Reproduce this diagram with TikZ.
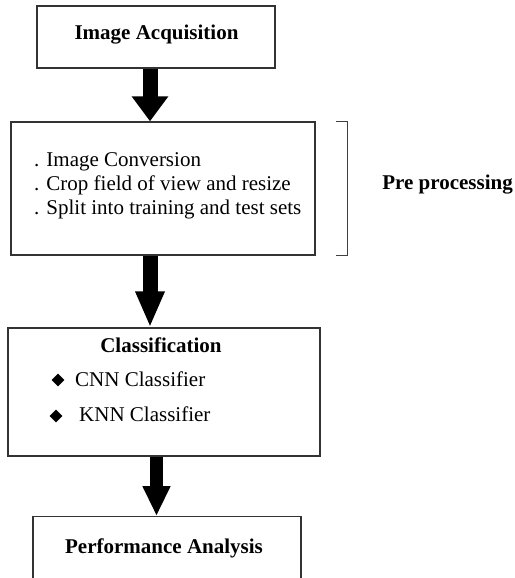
\documentclass[tikz,border=0pt]{standalone}
\usepackage{fontspec}
\setmainfont{Liberation Serif}
\usetikzlibrary{arrows.meta,shapes.geometric}

\tikzset{
	stage/.style={draw=black!80, line width=1.3pt, rectangle, inner sep=0pt},
	txt/.style={inner sep=0pt, font=\fontsize{21}{25}\selectfont},
	bold/.style={txt, font=\fontsize{21}{25}\selectfont\bfseries},
	bullet/.style={diamond, fill=black, inner sep=0pt, minimum size=13pt},
	bigarrow/.style n args={3}{line width=#1, -{Triangle[width=#2, length=#3]}}
}

\begin{document}
\begin{tikzpicture}[x=1pt, y=-1pt]
	\useasboundingbox (0,0) rectangle (514,578);

	\node[stage, minimum width=238pt, minimum height=62pt] (acq) at (156,37) {};
	\node[stage, minimum width=304pt, minimum height=133pt] (pre) at (163,188.5) {};
	\node[stage, minimum width=312pt, minimum height=128pt] (cls) at (164,392) {};
	\node[stage, minimum width=268pt, minimum height=90pt, anchor=north] (perf) at (167,516) {};

	\node[bold, anchor=base] (acqtxt) at (156.5,40) {Image Acquisition};

	\node[txt, anchor=base west] (conv) at (34,166) {. Image Conversion};
	\node[txt, anchor=base west] (crop) at (34,190) {. Crop field of view and resize};
	\node[txt, anchor=base west] (split) at (34,214) {. Split into training and test sets};

	\draw[black!75, line width=1.5pt] ([xshift=20pt]pre.north east) -- ([xshift=32pt]pre.north east)
		-- ([xshift=32pt]pre.south east) -- ([xshift=20pt]pre.south east);
	\node[bold, anchor=base east] (pretxt) at (513,189) {Pre processing};

	\node[bold, anchor=base] (clstxt) at (161,352) {Classification};
	\node[bullet] (b1) at (58,380) {};
	\node[txt, anchor=base west] (cnn) at (75,386) {CNN Classifier};
	\node[bullet] (b2) at (56,416) {};
	\node[txt, anchor=base west] (knn) at (79,421) {KNN Classifier};

	\node[bold, anchor=base] (perftxt) at (164,553) {Performance Analysis};

	\draw[bigarrow={15pt}{35pt}{25pt}] ([xshift=-6pt]acq.south) -- ([xshift=-13pt]pre.north);
	\draw[bigarrow={15pt}{27pt}{36pt}] ([xshift=-13pt]pre.south) -- ([xshift=-14pt]cls.north);
	\draw[bigarrow={13pt}{26pt}{30pt}] ([xshift=-7.5pt]cls.south) -- ([xshift=-10.5pt]perf.north);
\end{tikzpicture}
\end{document}
